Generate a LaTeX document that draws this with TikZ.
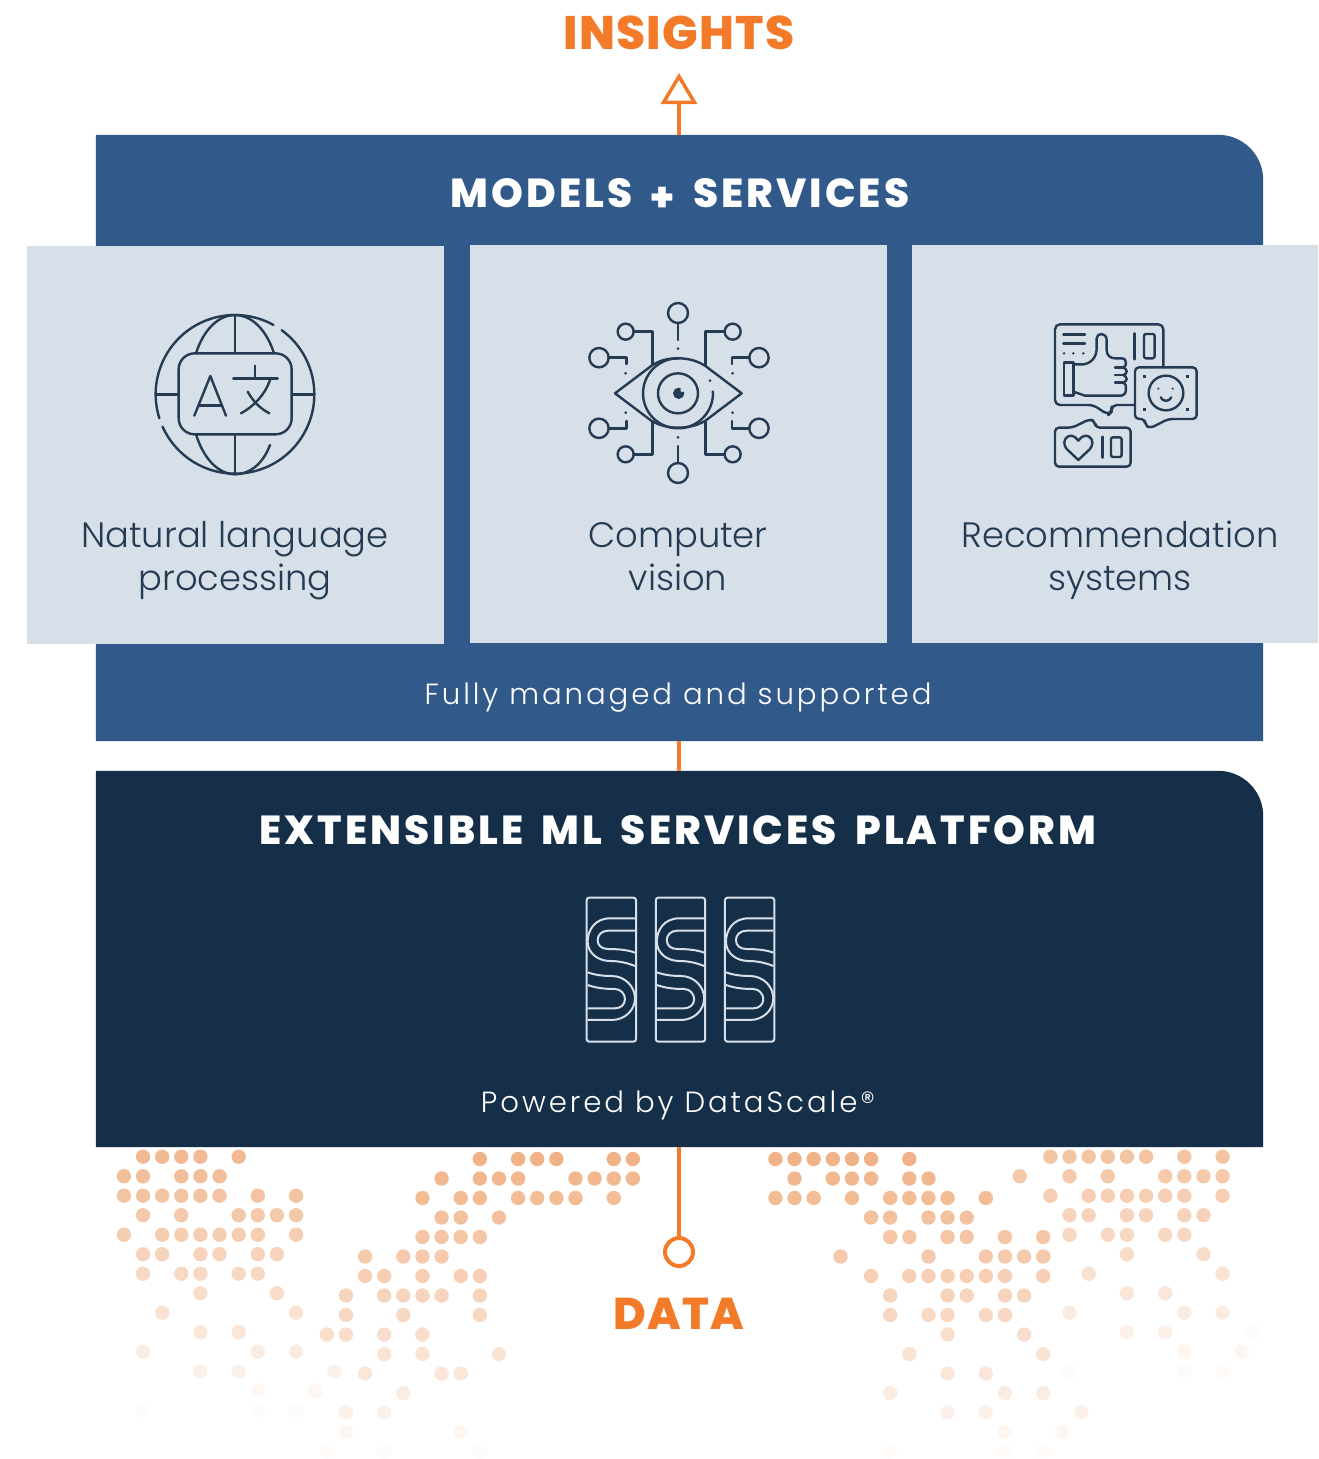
\documentclass[tikz,border=0pt]{standalone}
\usepackage{fontspec}
\usetikzlibrary{arrows.meta,positioning}
\setmainfont{Poppins Light}[BoldFont={Poppins Bold}]
\newfontfamily\headfont{Poppins ExtraBold}[LetterSpace=7.5,WordSpace=1.7]
\newfontfamily\plainhead{Poppins ExtraBold}[LetterSpace=2.5]
\newfontfamily\notefont{Poppins Light}[LetterSpace=10]

\definecolor{modelblue}{HTML}{315A8B}
\definecolor{platformnavy}{HTML}{162F48}
\definecolor{cardgrey}{HTML}{D7DFE8}
\definecolor{iconink}{HTML}{243B53}
\definecolor{accent}{HTML}{F27A28}
\definecolor{dotpeach}{HTML}{EFAE80}

\tikzset{
  card/.style={fill=cardgrey,inner sep=0pt,minimum height=398pt},
  cardtext/.style={text=iconink,align=center,font=\fontsize{35.3}{43}\selectfont},
  iconline/.style={draw=iconink,line width=2.4pt,line cap=round,line join=round},
  logoline/.style={draw=cardgrey,line width=2pt},
  link/.style={draw=accent,line width=4pt},
  panelbox/.style={inner sep=0pt,minimum width=1167pt},
}

% one block of the dot field: first column, first row, start opacity, fade per row, rows
\newcommand{\dotgroup}[5]{
  \foreach \rowidx/\collist in {#5} {
    \pgfmathsetmacro{\dotop}{max(0.03,#3-#4*\rowidx)}
    \foreach \colidx in \collist {
      \fill[dotpeach,fill opacity=\dotop] ({#1+19.13*\colidx},{#2+19.5*\rowidx}) circle [radius=7.2];
    }
  }
}

\begin{document}
\begin{tikzpicture}[x=1pt,y=-1pt]
  \useasboundingbox (0,0) rectangle (1318,1459);

  % dots under the platform
  \dotgroup{123.9}{1156.7}{.85}{.062}{0/{1,2,3,4,6},1/{0,1,3,4,5},2/{0,1,2,3,4,5,7,9},3/{1,3,6,7,8,9},4/{0,2,3,4,5,6,7,9},5/{1,2,4,5,7,8},6/{1,3,4,6,7},7/{4,8},8/{2,9},9/{4,6},10/{1,7,9},11/{4,6,11},12/{7,10},13/{1,7,9}}
  \dotgroup{326.8}{1159}{.95}{.06}{0/{8,10,11,12,15,16},1/{6,8,9,10,13,14,15,16},2/{5,7,8,10,11,12,13,15},3/{6,7,9},4/{5,6,7,8},5/{2,4,5,6},6/{2,3,5,7,8},7/{1,3,4,5,6,8},8/{1,4,8},9/{0,1,3,5},10/{3,5,9},11/{2,6,7},12/{4},13/{1,3},14/{1,7},15/{0,3,8}}
  \dotgroup{775.4}{1159}{.95}{.06}{0/{0,1,2,3,4,5,7},1/{1,3,4,5,7,8},2/{0,1,2,4,6,7,8,9,11},3/{5,6,8,9,10},4/{6,7,9,10,12,14},5/{3.4,8,11,12,13,14},6/{5,7,8,9,10,11,12,14},7/{6,9,10,12,13},8/{6,8,9,11,12},9/{9,13},10/{7,14},11/{9,11},12/{6,12,14},13/{9,11,16},14/{12,15},15/{6,12,14}}
  \dotgroup{1050.4}{1156.7}{.72}{.06}{0/{0,1,2,3,4,5,7,9},1/{-1.6,1,3,6,7,8,9},2/{0,2,3,4,5,6,7,9},3/{1,2,4,5,7,8},4/{1,3,4,6,7},5/{4,8},6/{2,9},7/{4,6},8/{1,7,9},9/{4,6},10/{7,10},11/{1,7,9}}
  \dotgroup{1050.4}{1156.7}{.04}{0}{9/{10.6}}

  % panels
  \node [panelbox,minimum height=606pt] (models) at (679.5,438) {};
  \node [panelbox,minimum height=376pt] (platform) at (679.5,959) {};
  \fill [modelblue] (models.south west) -- (models.north west) [rounded corners=45pt] -- (models.north east) [sharp corners] -- (models.south east) -- cycle;
  \fill [platformnavy] (platform.south west) -- (platform.north west) [rounded corners=45pt] -- (platform.north east) [sharp corners] -- (platform.south east) -- cycle;

  \node [card,minimum width=417pt] (nlpcard) at (235.5,444.5) {};
  \node [card,minimum width=417pt] (visioncard) at (678.5,444) {};
  \node [card,minimum width=406pt] (reccard) at (1115,444) {};

  % labels
  \node [text=accent,font=\fontsize{47}{47}\selectfont\plainhead] (insights) at (679,33) {INSIGHTS};
  \node [text=white,font=\fontsize{40.5}{40}\selectfont\headfont] (modelstitle) at (680,195) {MODELS \raisebox{-4pt}{+} SERVICES};
  \node [cardtext] (nlptext) at (235,561) {Natural language\\processing};
  \node [cardtext] (visiontext) at (678,557) {Computer\\vision};
  \node [cardtext] (rectext) at (1120,560) {Recommendation\\systems};
  \node [text=white,font=\fontsize{29.2}{29}\selectfont\notefont] (managed) at (678,697.5) {Fully managed and supported};
  \node [text=white,font=\fontsize{40.5}{40}\selectfont\headfont] (platformtitle) at (678,830.5) {EXTENSIBLE ML SERVICES PLATFORM};
  \node [text=white,font=\fontsize{29.2}{29}\selectfont\notefont] (powered) at (678,1105.5) {Powered by DataScale®};
  \node [text=accent,font=\fontsize{44.5}{44}\selectfont\plainhead] (datalabel) at (679,1314) {DATA};

  % connectors
  \coordinate (arrowtip) at (679,73);
  \node [circle,draw=accent,line width=4pt,fill=white,minimum size=28pt,inner sep=0pt] (datadot) at (679,1252) {};
  \draw [link,-{Triangle[open,fill=white,length=31pt,width=36pt,line width=3.5pt]}] (models.north -| arrowtip) -- (arrowtip);
  \draw [link] (models.south -| datadot) -- (platform.north -| datadot);
  \draw [link] (platform.south -| datadot) -- (datadot);

  % globe icon
  \begin{scope}[shift={(130,300)},x=.3333pt,y=-.3333pt,iconline]
    \draw (315,283) ++(-54:238) arc [start angle=-54,end angle=156,radius=238];
    \draw (315,283) ++(-197.6:238) arc [start angle=-197.6,end angle=-61,radius=238];
    \draw (198,160) .. controls (220,90) and (265,45) .. (315,45) .. controls (365,45) and (410,90) .. (432,160);
    \draw (198,403) .. controls (220,475) and (265,523) .. (315,523) .. controls (360,523) and (400,490) .. (420,435);
    \draw (315,45) -- (315,160);
    \draw (315,403) -- (315,523);
    \draw (78,283) -- (146,283);
    \draw (485,283) -- (553,283);
    \draw [rounded corners=16pt] (146,160) rectangle (485,403);
    \draw (193,347) -- (241,228) -- (288,347);
    \draw (205,316) -- (276,316);
    \draw (375,197) -- (375,235);
    \draw (310,235) -- (443,235);
    \draw (420,240) .. controls (405,285) and (370,320) .. (333,340);
    \draw (353,275) .. controls (370,305) and (390,325) .. (418,340);
  \end{scope}

  % eye icon
  \begin{scope}[shift={(570,295)},x=.3333pt,y=-.3333pt,iconline]
    \draw (324,54) circle [radius=30];
    \draw (324,534) circle [radius=30];
    \draw (324,84) -- (324,135);
    \draw (324,505) -- (324,453);
    \draw (167,110) circle [radius=24];
    \draw (488,110) circle [radius=24];
    \draw (167,478) circle [radius=24];
    \draw (488,478) circle [radius=24];
    \draw (191,110) -- (248,110) -- (248,210);
    \draw (464,110) -- (407,110) -- (407,210);
    \draw (191,478) -- (248,478) -- (248,380);
    \draw (464,478) -- (407,478) -- (407,380);
    \draw (87,188) circle [radius=29];
    \draw (567,188) circle [radius=29];
    \draw (87,400) circle [radius=29];
    \draw (567,400) circle [radius=29];
    \draw (116,188) -- (170,188) -- (170,207);
    \draw (538,188) -- (486,188) -- (486,207);
    \draw (116,400) -- (170,400) -- (170,378);
    \draw (538,400) -- (486,400) -- (486,378);
    \foreach \px/\py in {324/161,324/427,167/235,488/235,167/353,488/353,420/257}
      \fill [iconink] (\px,\py) circle [radius=4.5];
    \draw (135,295) -- (245,212) .. controls (270,195) and (295,190) .. (324,190) .. controls (355,190) and (380,197) .. (405,212) -- (515,295) -- (405,378) .. controls (380,392) and (355,398) .. (324,398) .. controls (295,398) and (270,392) .. (245,378) -- cycle;
    \draw (324,295) ++(-3:105) arc [start angle=-3,end angle=270,radius=105];
    \draw (324,295) circle [radius=60];
    \fill [iconink] (326,295) circle [radius=17];
    \fill [cardgrey] (337,285) circle [radius=6];
  \end{scope}

  % thumbs icon
  \begin{scope}[shift={(1040,310)},x=.3333pt,y=-.3333pt,iconline]
    \draw [rounded corners=5pt] (370,170) -- (370,43) -- (45,43) -- (45,285) -- (160,285) -- (205,315) -- (215,305) -- (215,285) -- (285,285);
    \draw (70,73) -- (135,73);
    \draw (70,100) -- (135,100);
    \foreach \px in {72,100,130}
      \fill [iconink] (\px,130) circle [radius=4];
    \draw (284,70) -- (284,148);
    \draw [rounded corners=2pt] (312,72) rectangle (344,145);
    \draw (72,157) rectangle (100,257);
    \draw (100,163) -- (130,163) .. controls (155,160) and (170,140) .. (170,115) -- (170,85) .. controls (170,67) and (200,67) .. (200,90) -- (200,120) .. controls (200,135) and (210,145) .. (225,145) -- (245,145) .. controls (255,145) and (258,152) .. (258,160) .. controls (258,166) and (255,170) .. (250,172) .. controls (256,175) and (260,180) .. (260,184) .. controls (260,190) and (255,194) .. (250,195) .. controls (256,198) and (260,202) .. (260,207) .. controls (260,212) and (255,216) .. (250,218) .. controls (256,221) and (259,226) .. (258,235) .. controls (258,250) and (252,257) .. (245,257) -- (135,257) -- (100,245);
    \draw (225,172) -- (250,172);
    \draw (225,195) -- (250,195);
    \draw (225,218) -- (250,218);
    \draw [fill=cardgrey,rounded corners=4pt] (285,172) -- (470,172) -- (470,327) -- (385,327) -- (330,355) -- (315,345) -- (315,327) -- (285,327) -- cycle;
    \foreach \px/\py in {313/199,442/199,313/298,442/298}
      \fill [iconink] (\px-4,\py-4) rectangle (\px+4,\py+4);
    \draw (378,249) circle [radius=52];
    \fill [iconink] (355,236) circle [radius=3.5];
    \fill [iconink] (398,236) circle [radius=3.5];
    \draw (362,262) .. controls (368,276) and (388,276) .. (394,262);
    \draw [rounded corners=4pt] (45,353) -- (97,353) -- (150,327) -- (165,335) -- (167,353) -- (272,353) -- (272,470) -- (45,470) -- cycle;
    \draw (115,450) -- (80,417) .. controls (58,390) and (92,358) .. (115,392) .. controls (138,358) and (172,390) .. (150,417) -- cycle;
    \draw (187,380) -- (187,443);
    \draw [rounded corners=2pt] (213,382) rectangle (245,441);
  \end{scope}

  % logo
  \foreach \logox in {0,207.5,415} {
    \begin{scope}[shift={(575+\logox*.3333,885)},x=.3333pt,y=-.3333pt,logoline]
      \draw [rounded corners=2.5pt] (35,38) rectangle (183,470);
      \draw (180,100) -- (105,100) .. controls (60,100) and (38,135) .. (38,170) .. controls (38,205) and (70,228) .. (105,228) .. controls (135,228) and (160,235) .. (180,243);
      \draw (180,137) -- (100,137) .. controls (80,137) and (68,150) .. (68,165) .. controls (68,182) and (80,192) .. (100,192) .. controls (130,192) and (160,195) .. (180,203);
      \draw (38,262) .. controls (60,270) and (85,273) .. (110,273) .. controls (150,273) and (180,305) .. (180,340) .. controls (180,375) and (150,405) .. (110,405) -- (38,405);
      \draw (38,300) .. controls (60,308) and (85,312) .. (120,312) .. controls (138,312) and (150,328) .. (150,342) .. controls (150,358) and (138,370) .. (120,370) -- (38,370);
    \end{scope}
  }
\end{tikzpicture}
\end{document}
